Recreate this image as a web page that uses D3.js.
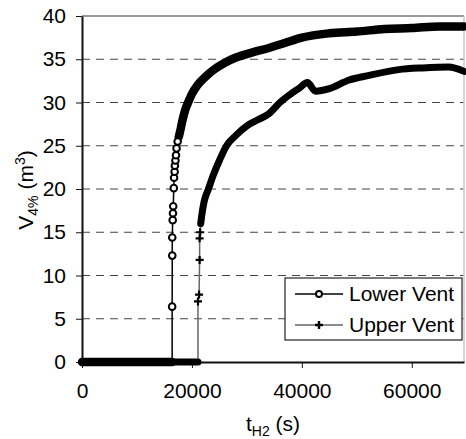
<!DOCTYPE html>
<html>
<head>
<meta charset="utf-8">
<script src="https://cdn.jsdelivr.net/npm/d3@7"></script>
<style>
  body { margin: 0; background: #fff; }
  svg { display: block; font-family: "Liberation Sans", Arial, sans-serif; }
</style>
</head>
<body>
<script>
// axis ticks
let xTicks = [0, 20000, 40000, 60000];
let yTicks = [0, 5, 10, 15, 20, 25, 30, 35, 40];
let gridTicks = [5, 10, 15, 20, 25, 30, 35];

// Lower Vent series (t in s, V in m3)
let lowerT = [0, 3000, 6000, 9000, 12000, 14000, 16400, 16400, 16420, 16420, 16500, 16550, 16600, 16700, 16750,
    16850, 16900, 17000, 17100, 17200, 17400, 17600, 17900, 18300, 18800, 19300, 20000, 21000, 22500, 24000,
    26000, 28000, 31000, 34000, 37000, 40000, 45000, 50000, 55000, 60000, 65000, 69500];
let lowerV = [0, 0, 0, 0, 0, 0, 0, 6.4, 12.3, 14.4, 16.4, 17.2, 18.0, 20.1, 21.3,
    22.0, 22.7, 23.3, 23.9, 24.7, 25.5, 26.0, 26.8, 28.0, 29.2, 30.0, 31.0, 32.0, 33.0, 33.8,
    34.6, 35.2, 35.8, 36.3, 36.9, 37.5, 38.0, 38.2, 38.5, 38.6, 38.8, 38.8];

// Upper Vent series
let upperT = [0, 3000, 6000, 9000, 12000, 15000, 18000, 21100, 21100, 21300, 21400, 21400, 21500, 21600, 21800,
    22200, 23000, 24000, 25000, 26300, 28000, 30000, 32000, 34000, 36000, 38000, 39600, 41000, 42500,
    45000, 48600, 52000, 57600, 62000, 66700, 69500];
let upperV = [0, 0, 0, 0, 0, 0, 0, 0, 7.0, 7.8, 11.8, 14.3, 15.0, 16.0, 17.0,
    18.5, 20.0, 21.8, 23.3, 25.0, 26.2, 27.3, 28.0, 28.7, 30.0, 31.0, 31.7, 32.3, 31.3,
    31.6, 32.6, 33.1, 33.8, 34.0, 34.1, 33.6];

// where the markers pile up into a solid band
let lowerDense = 26;
let upperDense = 16;

let seriesNames = ["Lower Vent", "Upper Vent"];

let width = 466, height = 439;
let mLeft = 82, mRight = 464, mTop = 16, mBottom = 362;

let svg = d3.select("body").append("svg")
    .attr("width", width)
    .attr("height", height);

let x = d3.scaleLinear().domain([0, 69500]).range([mLeft, mRight]);
let y = d3.scaleLinear().domain([0, 40]).range([mBottom, mTop]);

// gridlines
svg.append("g").selectAll("line")
    .data(gridTicks)
    .enter().append("line")
    .attr("x1", mLeft).attr("x2", mRight)
    .attr("y1", d => y(d)).attr("y2", d => y(d))
    .attr("stroke", "#444")
    .attr("stroke-width", 1)
    .attr("stroke-dasharray", "8,6");

// top and right frame
svg.append("line").attr("x1", mLeft).attr("x2", mRight).attr("y1", mTop).attr("y2", mTop)
    .attr("stroke", "#999").attr("stroke-width", 2);
svg.append("line").attr("x1", mRight).attr("x2", mRight).attr("y1", mTop).attr("y2", mBottom)
    .attr("stroke", "#c8c8c8").attr("stroke-width", 1.5);

// axes
let xAxis = d3.axisBottom(x).tickValues(xTicks).tickSize(6).tickSizeOuter(0).tickPadding(15)
    .tickFormat(d3.format("d"));
let yAxis = d3.axisLeft(y).tickValues(yTicks).tickSize(6).tickSizeOuter(0).tickPadding(10)
    .tickFormat(d3.format("d"));

let gx = svg.append("g").attr("transform", "translate(0," + mBottom + ")").call(xAxis);
let gy = svg.append("g").attr("transform", "translate(" + mLeft + ",0)").call(yAxis);

[gx, gy].forEach(g => {
    g.select(".domain").attr("stroke", "#111").attr("stroke-width", 2);
    g.selectAll(".tick line").attr("stroke", "#111").attr("stroke-width", 1);
    g.selectAll(".tick text").attr("font-size", 21).attr("fill", "#000")
        .attr("font-family", "Liberation Sans, Arial, sans-serif");
});

function pts(ts, vs) {
    return ts.map((t, i) => ({ t: t, v: vs[i] }));
}
let lower = pts(lowerT, lowerV);
let upper = pts(upperT, upperV);

let line = d3.line().x(d => x(d.t)).y(d => y(d.v));

// thin connecting lines
svg.append("path").datum(upper).attr("d", line)
    .attr("fill", "none").attr("stroke", "#666").attr("stroke-width", 1.5);
svg.append("path").datum(lower).attr("d", line)
    .attr("fill", "none").attr("stroke", "#000").attr("stroke-width", 1.5);

// solid bands where markers overlap
function band(data, dense, w) {
    let bandLine = d3.line().defined(d => d.v === 0 || d.v >= dense)
        .x(d => x(d.t)).y(d => y(d.v)).curve(d3.curveMonotoneX);
    svg.append("path").datum(data).attr("d", bandLine)
        .attr("fill", "none").attr("stroke", "#000").attr("stroke-width", w)
        .attr("stroke-linecap", "round").attr("stroke-linejoin", "round");
}
band(upper, upperDense, 7);
band(lower, lowerDense, 8.5);

// markers on the sparse stretch
svg.append("g").selectAll("path")
    .data(upper.filter(d => d.v > 0 && d.v < upperDense))
    .enter().append("path")
    .attr("transform", d => "translate(" + x(d.t) + "," + y(d.v) + ")")
    .attr("d", "M-4,0H4M0,-4V4")
    .attr("stroke", "#000").attr("stroke-width", 2.2).attr("fill", "none");

svg.append("g").selectAll("circle")
    .data(lower.filter(d => d.v > 0 && d.v < lowerDense))
    .enter().append("circle")
    .attr("cx", d => x(d.t)).attr("cy", d => y(d.v))
    .attr("r", 3.3)
    .attr("fill", "#fff").attr("stroke", "#000").attr("stroke-width", 2);

// axis titles
let yt = svg.append("text")
    .attr("transform", "translate(33,190) rotate(-90)")
    .attr("text-anchor", "middle")
    .attr("font-size", 21);
yt.append("tspan").text("V");
yt.append("tspan").attr("font-size", 14).attr("dy", 5).text("4%");
yt.append("tspan").attr("dy", -5).text(" (m");
yt.append("tspan").attr("font-size", 14).attr("dy", -8).text("3");
yt.append("tspan").attr("dy", 8).text(")");

let xt = svg.append("text")
    .attr("x", 273).attr("y", 431)
    .attr("text-anchor", "middle")
    .attr("font-size", 21);
xt.append("tspan").text("t");
xt.append("tspan").attr("font-size", 14).attr("dy", 5).text("H2");
xt.append("tspan").attr("dy", -5).text(" (s)");

// legend
let lg = svg.append("g");
lg.append("rect")
    .attr("x", 285).attr("y", 278).attr("width", 177).attr("height", 62)
    .attr("fill", "#fff").attr("stroke", "#222").attr("stroke-width", 1.2);

let rows = [294, 325];
let lineColors = ["#000", "#666"];
seriesNames.forEach((name, i) => {
    lg.append("line").attr("x1", 295).attr("x2", 343).attr("y1", rows[i]).attr("y2", rows[i])
        .attr("stroke", lineColors[i]).attr("stroke-width", 1.5);
    if (i === 0) {
        lg.append("circle").attr("cx", 319).attr("cy", rows[i]).attr("r", 3)
            .attr("fill", "#fff").attr("stroke", "#000").attr("stroke-width", 2);
    } else {
        lg.append("path").attr("transform", "translate(319," + rows[i] + ")")
            .attr("d", "M-4,0H4M0,-4V4").attr("stroke", "#000").attr("stroke-width", 2.4);
    }
    lg.append("text").attr("x", 349).attr("y", rows[i] + 7)
        .attr("font-size", 21).text(name);
});
</script>
</body>
</html>
